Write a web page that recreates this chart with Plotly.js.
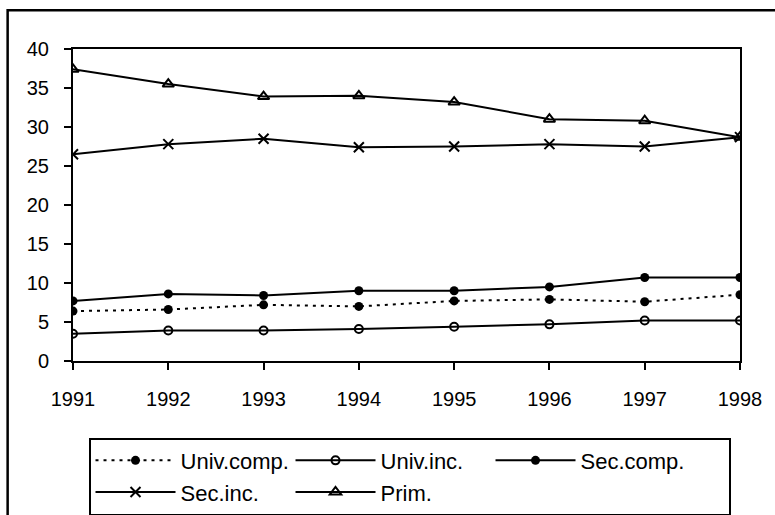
<!DOCTYPE html>
<html>
<head>
<meta charset="utf-8">
<script src="https://cdn.plot.ly/plotly-3.0.1.min.js"></script>
<style>html,body{margin:0;padding:0;background:#fff;}#chart{width:775px;height:515px;}</style>
</head>
<body>
<div id="chart"></div>
<script>
const years = [1991, 1992, 1993, 1994, 1995, 1996, 1997, 1998];
const univComp = [6.4, 6.6, 7.2, 7.0, 7.7, 7.9, 7.6, 8.5];
const univInc  = [3.5, 3.9, 3.9, 4.1, 4.4, 4.7, 5.2, 5.2];
const secComp  = [7.7, 8.6, 8.4, 9.0, 9.0, 9.5, 10.7, 10.7];
const secInc   = [26.5, 27.8, 28.5, 27.4, 27.5, 27.8, 27.5, 28.7];
const prim     = [37.4, 35.5, 33.9, 34.0, 33.2, 31.0, 30.8, 28.7];
const seriesNames = ["Univ.comp.", "Univ.inc.", "Sec.comp.", "Sec.inc.", "Prim."];

const FONT = "Liberation Sans, Arial, sans-serif";
const LW = 2;
const traces = [
  {x: years, y: univComp, name: seriesNames[0], mode: "lines+markers",
   line: {color: "#000", width: LW, dash: "3px,5px"},
   marker: {symbol: "circle", size: 9, color: "#000"}},
  {x: years, y: univInc, name: seriesNames[1], mode: "lines+markers",
   line: {color: "#000", width: LW},
   marker: {symbol: "circle-open", size: 8, color: "#000", line: {width: 2}}},
  {x: years, y: secComp, name: seriesNames[2], mode: "lines+markers",
   line: {color: "#000", width: LW},
   marker: {symbol: "circle", size: 9, color: "#000"}},
  {x: years, y: secInc, name: seriesNames[3], mode: "lines+markers",
   line: {color: "#000", width: LW},
   marker: {symbol: "x-thin-open", size: 10, color: "#000", line: {width: 2, color: "#000"}}},
  {x: years, y: prim, name: seriesNames[4], mode: "lines+markers",
   line: {color: "#000", width: LW},
   marker: {symbol: "triangle-up-open", size: 10, color: "#000", line: {width: 2}}}
];

const layout = {
  width: 775, height: 515,
  margin: {l: 73, r: 35, t: 49, b: 154, autoexpand: false},
  paper_bgcolor: "#fff", plot_bgcolor: "#fff",
  font: {family: FONT, size: 20, color: "#000"},
  showlegend: true,
  xaxis: {range: [1991, 1998], dtick: 1, tick0: 1991, showgrid: false, zeroline: false,
          showline: true, linecolor: "#000", linewidth: 2, mirror: true,
          ticks: "outside", ticklen: 7, tickwidth: 2, tickcolor: "#000",
          tickfont: {family: FONT, size: 20}, ticklabelstandoff: 12, automargin: false},
  yaxis: {range: [0, 40], dtick: 5, showgrid: false, zeroline: false,
          showline: true, linecolor: "#000", linewidth: 2, mirror: true,
          ticks: "outside", ticklen: 7, tickwidth: 2, tickcolor: "#000",
          tickfont: {family: FONT, size: 20}, ticklabelstandoff: 11, automargin: false},
  legend: {orientation: "h", x: 0.024, y: -0.247, xanchor: "left", yanchor: "top",
           bordercolor: "#000", borderwidth: 1.5, bgcolor: "#fff",
           font: {family: FONT, size: 22}, itemwidth: 80, entrywidth: 105,
           traceorder: "normal", tracegroupgap: 0},
  shapes: [{type: "rect", xref: "paper", yref: "paper",
            x0: -0.098, x1: 1.1, y0: -0.6, y1: 1.124,
            line: {color: "#000", width: 2.5}, fillcolor: "rgba(0,0,0,0)", layer: "below"}]
};

Plotly.newPlot("chart", traces, layout, {staticPlot: true}).then(function (gd) {
  // lengthen legend line samples and centre the markers on them
  gd.querySelectorAll(".legend .traces").forEach(function (t) {
    t.querySelectorAll(".legendlines path").forEach(function (p) {
      p.setAttribute("d", "M5,0h80");
    });
    t.querySelectorAll(".legendpoints path").forEach(function (p) {
      p.setAttribute("transform", "translate(45,0)");
    });
  });
  // widen the legend frame to the reference's box size
  var bg = gd.querySelector(".legend rect.bg");
  if (bg) {
    bg.setAttribute("width", "640");
    bg.setAttribute("height", "76");
  }
});
</script>
</body>
</html>
